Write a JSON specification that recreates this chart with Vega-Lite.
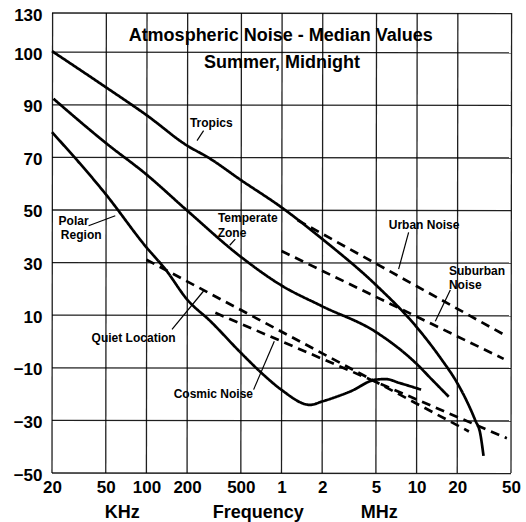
{
  "$schema": "https://vega.github.io/schema/vega-lite/v6.json",
  "width": 459,
  "height": 460,
  "autosize": {"type": "pad"},
  "padding": {"left": 5, "top": 6, "right": 0, "bottom": 0},
  "background": "white",
  "config": {"view": {"stroke": null}, "font": "Liberation Sans"},
  "datasets": {
    "gridF": [
      {"f": 20}, {"f": 50}, {"f": 100}, {"f": 200}, {"f": 500}, {"f": 1000},
      {"f": 2000}, {"f": 5000}, {"f": 10000}, {"f": 20000}, {"f": 50000}
    ],
    "gridV": [
      {"v": -50}, {"v": -30}, {"v": -10}, {"v": 10}, {"v": 30},
      {"v": 50}, {"v": 70}, {"v": 90}, {"v": 110}, {"v": 124.9}
    ],
    "curves": [
      {"series": "Tropics", "source": "atmospheric", "f": 20, "v": 110.4},
      {"series": "Tropics", "source": "atmospheric", "f": 50, "v": 96.7},
      {"series": "Tropics", "source": "atmospheric", "f": 100, "v": 86.1},
      {"series": "Tropics", "source": "atmospheric", "f": 200, "v": 74.5},
      {"series": "Tropics", "source": "atmospheric", "f": 290, "v": 69.8},
      {"series": "Tropics", "source": "atmospheric", "f": 500, "v": 61.4},
      {"series": "Tropics", "source": "atmospheric", "f": 1000, "v": 51},
      {"series": "Tropics", "source": "atmospheric", "f": 2000, "v": 39},
      {"series": "Tropics", "source": "atmospheric", "f": 5000, "v": 21.5},
      {"series": "Tropics", "source": "atmospheric", "f": 10000, "v": 5.5},
      {"series": "Tropics", "source": "atmospheric", "f": 15000, "v": -6.2},
      {"series": "Tropics", "source": "atmospheric", "f": 20000, "v": -15.8},
      {"series": "Tropics", "source": "atmospheric", "f": 23600, "v": -22.8},
      {"series": "Tropics", "source": "atmospheric", "f": 27200, "v": -30},
      {"series": "Tropics", "source": "atmospheric", "f": 29600, "v": -35},
      {"series": "Tropics", "source": "atmospheric", "f": 31300, "v": -43.5},
      {"series": "Temperate Zone", "source": "atmospheric", "f": 20.5, "v": 92.3},
      {"series": "Temperate Zone", "source": "atmospheric", "f": 50, "v": 75.5},
      {"series": "Temperate Zone", "source": "atmospheric", "f": 100, "v": 63.5},
      {"series": "Temperate Zone", "source": "atmospheric", "f": 200, "v": 49.8},
      {"series": "Temperate Zone", "source": "atmospheric", "f": 500, "v": 32.2},
      {"series": "Temperate Zone", "source": "atmospheric", "f": 1000, "v": 21.3},
      {"series": "Temperate Zone", "source": "atmospheric", "f": 2000, "v": 13.4},
      {"series": "Temperate Zone", "source": "atmospheric", "f": 5000, "v": 3.6},
      {"series": "Temperate Zone", "source": "atmospheric", "f": 10000, "v": -8.5},
      {"series": "Temperate Zone", "source": "atmospheric", "f": 13000, "v": -14.5},
      {"series": "Temperate Zone", "source": "atmospheric", "f": 17300, "v": -21},
      {"series": "Polar Region", "source": "atmospheric", "f": 20, "v": 79.6},
      {"series": "Polar Region", "source": "atmospheric", "f": 50, "v": 56},
      {"series": "Polar Region", "source": "atmospheric", "f": 100, "v": 35.8},
      {"series": "Polar Region", "source": "atmospheric", "f": 138, "v": 27.5},
      {"series": "Polar Region", "source": "atmospheric", "f": 200, "v": 16},
      {"series": "Polar Region", "source": "atmospheric", "f": 298, "v": 7.7},
      {"series": "Polar Region", "source": "atmospheric", "f": 500, "v": -4.3},
      {"series": "Polar Region", "source": "atmospheric", "f": 760, "v": -13.3},
      {"series": "Polar Region", "source": "atmospheric", "f": 1000, "v": -18.4},
      {"series": "Polar Region", "source": "atmospheric", "f": 1630, "v": -24.1},
      {"series": "Polar Region", "source": "atmospheric", "f": 2000, "v": -22.8},
      {"series": "Polar Region", "source": "atmospheric", "f": 3230, "v": -19},
      {"series": "Polar Region", "source": "atmospheric", "f": 5000, "v": -14.5},
      {"series": "Polar Region", "source": "atmospheric", "f": 5900, "v": -14.3},
      {"series": "Polar Region", "source": "atmospheric", "f": 7500, "v": -15.8},
      {"series": "Polar Region", "source": "atmospheric", "f": 10800, "v": -18.3},
      {"series": "Urban Noise", "source": "man-made", "f": 1320, "v": 46.1},
      {"series": "Urban Noise", "source": "man-made", "f": 46600, "v": 2.0},
      {"series": "Suburban Noise", "source": "man-made", "f": 1000, "v": 34.4},
      {"series": "Suburban Noise", "source": "man-made", "f": 44100, "v": -6.6},
      {"series": "Quiet Location", "source": "man-made", "f": 100, "v": 31.1},
      {"series": "Quiet Location", "source": "man-made", "f": 24400, "v": -34.2},
      {"series": "Cosmic Noise", "source": "cosmic", "f": 324, "v": 10.9},
      {"series": "Cosmic Noise", "source": "cosmic", "f": 46600, "v": -36.8}
    ],
    "leaders": [
      {"label": "Tropics", "f": 265, "v": 80.2, "f2": 237, "v2": 76.4},
      {"label": "Polar Region", "f": 37.3, "v": 44.0, "f2": 58.8, "v2": 47.8},
      {"label": "Temperate Zone", "f": 455, "v": 38.9, "f2": 414, "v2": 36.6},
      {"label": "Urban Noise", "f": 8730, "v": 41.5, "f2": 7362, "v2": 27.5},
      {"label": "Suburban Noise", "f": 17770, "v": 19.6, "f2": 13760, "v2": 7.7},
      {"label": "Quiet Location", "f": 154.7, "v": 4.6, "f2": 265, "v2": 19.2},
      {"label": "Cosmic Noise", "f": 621.6, "v": -18.3, "f2": 884.6, "v2": 0.1}
    ],
    "labels": [
      {"text": "Tropics", "f": 302, "v": 82.9},
      {"text": "Polar", "f": 28.9, "v": 45.9},
      {"text": "Region", "f": 32.9, "v": 40.6},
      {"text": "Temperate", "f": 563, "v": 46.9},
      {"text": "Zone", "f": 430, "v": 41.4},
      {"text": "Urban Noise", "f": 11370, "v": 44.3},
      {"text": "Suburban", "f": 28000, "v": 26.8},
      {"text": "Noise", "f": 22940, "v": 21.3},
      {"text": "Quiet Location", "f": 80.4, "v": 1.4},
      {"text": "Cosmic Noise", "f": 312.8, "v": -20.1}
    ],
    "headings": [
      {"text": "Atmospheric Noise - Median Values", "f": 986, "v": 116.3},
      {"text": "Summer, Midnight", "f": 1010, "v": 106.0},
      {"text": "KHz", "f": 66.3, "v": -65.3},
      {"text": "Frequency", "f": 673, "v": -65.3},
      {"text": "MHz", "f": 5300, "v": -65.3}
    ]
  },
  "layer": [
    {
      "data": {"name": "gridF"},
      "mark": {"type": "rule", "strokeWidth": 1.3, "color": "black", "opacity": 0.88, "x2Offset": 0.6},
      "encoding": {
        "x": {
          "field": "f", "type": "quantitative",
          "scale": {"type": "log", "domain": [20, 50000], "nice": false},
          "axis": {
            "values": [20, 50, 100, 200, 500, 1000, 2000, 5000, 10000, 20000, 50000],
            "labelExpr": "datum.value >= 1000 ? format(datum.value / 1000, 'd') : format(datum.value, 'd')",
            "labelFont": "Liberation Sans", "labelFontSize": 17, "labelFontWeight": "bold", "labelColor": "black",
            "labelPadding": 6, "labelOverlap": false, "labelBound": false, "labelFlush": false,
            "ticks": false, "domain": false, "grid": false,
            "title": null
          }
        },
        "x2": {"field": "f"},
        "y": {
          "datum": -50, "type": "quantitative",
          "scale": {"type": "linear", "domain": [-50, 124.9], "zero": false, "nice": false},
          "axis": {
            "values": [-50, -30, -10, 10, 30, 50, 70, 90, 110, 124.9],
            "labelExpr": "datum.value > 120 ? '130' : datum.value > 100 ? '100' : format(datum.value, 'd')",
            "labelFont": "Liberation Sans", "labelFontSize": 17, "labelFontWeight": "bold", "labelColor": "black",
            "labelPadding": 10, "labelOffset": 2, "labelOverlap": false, "labelBound": false, "labelFlush": false,
            "ticks": false, "domain": false, "grid": false, "minExtent": 47, "maxExtent": 47,
            "title": null
          }
        },
        "y2": {"datum": 124.9}
      }
    },
    {
      "data": {"name": "gridV"},
      "mark": {"type": "rule", "strokeWidth": 1.3, "color": "black", "opacity": 0.88, "y2Offset": 0.6},
      "encoding": {
        "y": {"field": "v", "type": "quantitative"},
        "y2": {"field": "v"},
        "x": {"datum": 20, "type": "quantitative"},
        "x2": {"datum": 50000}
      }
    },
    {
      "data": {"name": "curves"},
      "mark": {"type": "line", "interpolate": "monotone", "strokeWidth": 2.7, "color": "black"},
      "encoding": {
        "x": {"field": "f", "type": "quantitative"},
        "y": {"field": "v", "type": "quantitative"},
        "detail": {"field": "series", "type": "nominal"},
        "strokeDash": {
          "field": "source", "type": "nominal",
          "scale": {"domain": ["atmospheric", "man-made", "cosmic"], "range": [[1, 0], [9, 6], [9, 6]]},
          "legend": null
        }
      }
    },
    {
      "data": {"name": "leaders"},
      "mark": {"type": "rule", "strokeWidth": 1.2, "color": "black"},
      "encoding": {
        "x": {"field": "f", "type": "quantitative"},
        "y": {"field": "v", "type": "quantitative"},
        "x2": {"field": "f2"},
        "y2": {"field": "v2"}
      }
    },
    {
      "data": {"name": "labels"},
      "mark": {"type": "text", "font": "Liberation Sans", "fontWeight": "bold", "fontSize": 12, "align": "center", "baseline": "middle", "color": "black"},
      "encoding": {
        "x": {"field": "f", "type": "quantitative"},
        "y": {"field": "v", "type": "quantitative"},
        "text": {"field": "text"}
      }
    },
    {
      "data": {"name": "headings"},
      "mark": {"type": "text", "font": "Liberation Sans", "fontWeight": "bold", "fontSize": 18, "align": "center", "baseline": "middle", "color": "black"},
      "encoding": {
        "x": {"field": "f", "type": "quantitative"},
        "y": {"field": "v", "type": "quantitative"},
        "text": {"field": "text"}
      }
    }
  ]
}
